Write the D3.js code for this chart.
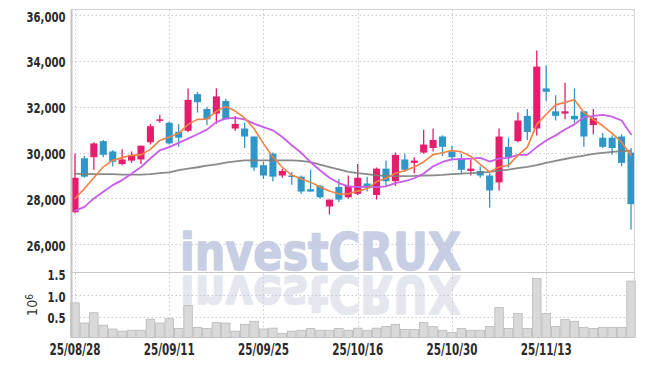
<!DOCTYPE html>
<html lang="ko">
<head>
<meta charset="UTF-8">
<title>Candle chart</title>
<style>
  body { margin: 0; background: #fff; }
  svg { display: block; }
  .grid line { stroke: #c6c8da; stroke-width: 1; stroke-dasharray: 1.5,2.5; }
  .axis text { font-family: "Liberation Sans Narrow", "DejaVu Sans Condensed", sans-serif; font-weight: bold; fill: #2b2b2b; }
  .axis path, .axis line { display: none; }
  .border { stroke: #d4d4d4; stroke-width: 1; fill: none; }
  .ma { fill: none; stroke-linejoin: round; stroke-linecap: round; }
  .watermark { font-family: "DejaVu Sans", sans-serif; font-weight: bold; stroke-linejoin: round; }
</style>
</head>
<body>
<svg></svg>
<script src="https://d3js.org/d3.v7.min.js"></script>
<script>
// trading days (yy/mm/dd)
const dates = [
  "25/08/28","25/08/29",
  "25/09/01","25/09/02","25/09/03","25/09/04","25/09/05","25/09/08","25/09/09","25/09/10","25/09/11","25/09/12",
  "25/09/15","25/09/16","25/09/17","25/09/18","25/09/19","25/09/22","25/09/23","25/09/24","25/09/25","25/09/26",
  "25/09/29","25/09/30","25/10/01","25/10/02","25/10/10","25/10/13","25/10/14","25/10/15","25/10/16","25/10/17",
  "25/10/20","25/10/21","25/10/22","25/10/23","25/10/24","25/10/27","25/10/28","25/10/29","25/10/30","25/10/31",
  "25/11/03","25/11/04","25/11/05","25/11/06","25/11/07","25/11/10","25/11/11","25/11/12","25/11/13","25/11/14",
  "25/11/17","25/11/18","25/11/19","25/11/20","25/11/21","25/11/24","25/11/25","25/11/26"
];

const open = [27400,29750,29800,30500,30050,29500,29650,29700,30450,31400,31300,30900,30950,32550,31900,31700,32250,31050,31050,30700,
  29450,29950,29000,29000,28950,28400,28550,27650,28500,28050,28200,28650,28150,29300,28750,29700,29550,30000,30200,30700,
  30050,29750,29200,29200,29000,28700,30250,30500,31600,31050,32800,31800,31700,31600,31800,31200,30650,30650,30700,30000];
const high = [29950,29850,30450,30550,30100,30150,30050,30300,31250,31650,31350,31250,32800,32650,32000,32800,32350,31600,31300,30700,
  29600,30000,29300,29150,29000,29250,28600,27950,28850,29000,29500,28950,29350,29650,30000,29950,29800,31000,31050,30750,
  30300,29950,29700,29400,29100,31050,30650,31750,31900,34450,33800,32500,33050,32800,31800,31900,30850,30750,30800,30200];
const low = [27350,28900,29250,29800,29400,29450,29550,29500,30350,31300,30350,30250,30900,31750,31200,31250,31450,30950,30200,29200,
  28850,28750,28900,28600,28200,28300,28000,27300,27850,28000,28150,28300,27950,28550,28550,29150,29100,29950,30050,29850,
  29650,29050,29000,28900,27600,28350,29350,30450,30550,30750,32250,31400,31450,31300,30250,30800,30200,29900,29400,26650];
const close = [28900,28950,30400,29900,29600,29700,29900,30300,31150,31450,30400,30650,32300,32200,31450,32450,31450,31250,30700,29350,
  29000,28950,29200,28950,28300,28300,28050,27950,27950,28550,28900,28450,29300,28750,29900,29250,29650,30350,30550,30250,
  29800,29250,29300,29000,28350,30700,29800,31400,30900,33750,32650,31600,31800,31450,30700,31500,30250,30200,29550,27750];

// moving averages
const ma5 = [28000,28430,28900,29380,29660,29780,29880,29900,30140,30530,30680,30840,31230,31450,31460,31800,32010,31810,31510,31040,
  30390,29810,29360,29010,28860,28710,28500,28320,28190,28200,28320,28420,28730,28880,29100,29210,29370,29590,29910,29990,
  30090,30030,29840,29490,29160,29370,29450,29880,30240,31230,31670,32080,32190,32300,31750,31450,31170,30840,30450,29880];
const ma20 = [27460,27630,28000,28290,28580,28800,29080,29370,29740,30100,30240,30420,30610,30800,31000,31330,31490,31510,31450,31260,
  31110,30970,30680,30320,29990,29580,29230,28900,28670,28530,28500,28500,28490,28530,28670,28750,28880,29090,29400,29590,
  29700,29720,29740,29770,29610,29740,29770,29900,29900,30240,30530,30750,31010,31230,31540,31600,31640,31570,31400,30800];
const ma60 = [29080,29060,29060,29060,29060,29040,29040,29040,29060,29100,29140,29230,29300,29360,29430,29490,29560,29620,29660,29660,
  29660,29660,29660,29660,29640,29580,29470,29370,29270,29160,29100,29060,29010,28990,28970,28970,28980,29000,29010,29030,
  29060,29080,29100,29130,29160,29210,29260,29320,29380,29450,29550,29640,29720,29800,29870,29940,29990,30030,30060,30080];

// volume, millions of shares
const volume = [0.82,0.35,0.59,0.30,0.21,0.16,0.18,0.18,0.44,0.35,0.45,0.22,0.76,0.25,0.22,0.36,0.35,0.16,0.32,0.39,
  0.21,0.23,0.11,0.16,0.18,0.22,0.18,0.18,0.22,0.18,0.23,0.18,0.23,0.27,0.32,0.20,0.20,0.36,0.27,0.18,
  0.13,0.22,0.18,0.18,0.27,0.71,0.22,0.57,0.22,1.39,0.57,0.27,0.43,0.39,0.25,0.22,0.25,0.25,0.25,1.33];

const priceTicks = [26000, 28000, 30000, 32000, 34000, 36000];
const volTicks = [0.5, 1.0, 1.5];
const dateTicks = ["25/08/28", "25/09/11", "25/09/25", "25/10/16", "25/10/30", "25/11/13"];

const width = 645, height = 366;
const pLeft = 71.5, pRight = 634.5, pTop = 9.5, pMid = 272.5, pBottom = 337.5;
const upColor = "#e61c6c", downColor = "#2f97c8";

const svg = d3.select("svg").attr("width", width).attr("height", height);

const x = d3.scaleBand().domain(dates).range([71, 635]).paddingInner(0.25).paddingOuter(0.05);
const xc = d => x(d) + x.bandwidth() / 2;
const y = d3.scaleLinear().domain([24770, 36240]).range([pMid, pTop]);
const yv = d3.scaleLinear().domain([0, 1.53]).range([338, pMid]);

// watermark + reflection
const wm = svg.append("g");
wm.append("text").attr("class", "watermark")
  .attr("x", 180).attr("y", 270)
  .attr("textLength", 281).attr("lengthAdjust", "spacingAndGlyphs")
  .style("font-size", "51px").attr("fill", "#c8cfe5")
  .attr("stroke", "#c8cfe5").attr("stroke-width", 1.5)
  .text("investCRUX");
wm.append("text").attr("class", "watermark")
  .attr("x", 180).attr("y", 270)
  .attr("transform", "translate(0," + (2 * 273) + ") scale(1,-1)")
  .attr("textLength", 281).attr("lengthAdjust", "spacingAndGlyphs")
  .style("font-size", "51px").attr("fill", "#e5e7ef")
  .attr("stroke", "#e5e7ef").attr("stroke-width", 1.5)
  .text("investCRUX");

// grid
const grid = svg.append("g").attr("class", "grid");
grid.selectAll(".hp").data(priceTicks).join("line")
  .attr("x1", pLeft).attr("x2", pRight)
  .attr("y1", d => Math.round(y(d)) + 0.5).attr("y2", d => Math.round(y(d)) + 0.5);
grid.selectAll(".hv").data(volTicks.slice(0, 2)).join("line")
  .attr("x1", pLeft).attr("x2", pRight)
  .attr("y1", d => Math.round(yv(d)) + 0.5).attr("y2", d => Math.round(yv(d)) + 0.5);
grid.selectAll(".v").data(dateTicks).join("line")
  .attr("x1", d => Math.round(xc(d)) + 0.5).attr("x2", d => Math.round(xc(d)) + 0.5)
  .attr("y1", pTop).attr("y2", pBottom);

// volume bars
const vw = x.step() * 0.9;
svg.append("g").selectAll("rect").data(dates).join("rect")
  .attr("x", d => xc(d) - vw / 2)
  .attr("width", vw)
  .attr("y", (d, i) => yv(volume[i]))
  .attr("height", (d, i) => pBottom - yv(volume[i]))
  .attr("fill", "#d9d9d9")
  .attr("stroke", "#b9b9b9")
  .attr("stroke-width", 0.8);

// candles
const candles = svg.append("g").selectAll("g").data(dates).join("g")
  .attr("fill", (d, i) => close[i] >= open[i] ? upColor : downColor)
  .attr("stroke", (d, i) => close[i] >= open[i] ? upColor : downColor);
candles.append("line")
  .attr("x1", d => xc(d)).attr("x2", d => xc(d))
  .attr("y1", (d, i) => y(high[i])).attr("y2", (d, i) => y(low[i]))
  .attr("stroke-width", 1.3);
candles.append("rect")
  .attr("x", d => x(d))
  .attr("width", x.bandwidth())
  .attr("y", (d, i) => y(Math.max(open[i], close[i])))
  .attr("height", (d, i) => Math.max(1.5, Math.abs(y(open[i]) - y(close[i]))))
  .attr("stroke", "none");

// moving averages
const line = arr => d3.line().x(d => xc(d)).y((d, i) => y(arr[i]))(dates);
svg.append("path").attr("class", "ma").attr("d", line(ma60))
  .attr("stroke", "#7d7d7d").attr("stroke-width", 1.8).attr("stroke-opacity", 0.9);
svg.append("path").attr("class", "ma").attr("d", line(ma20))
  .attr("stroke", "#c95ce8").attr("stroke-width", 1.8);
svg.append("path").attr("class", "ma").attr("d", line(ma5))
  .attr("stroke", "#ef8345").attr("stroke-width", 1.6);

// borders
svg.append("rect").attr("class", "border")
  .attr("x", pLeft).attr("y", pTop).attr("width", pRight - pLeft).attr("height", pBottom - pTop);
svg.append("line").attr("x1", pLeft).attr("x2", pRight).attr("y1", pMid).attr("y2", pMid)
  .attr("stroke", "#c8c8c8").attr("stroke-width", 1.2);
svg.append("line").attr("x1", pLeft).attr("x2", pLeft).attr("y1", pTop).attr("y2", pBottom)
  .attr("stroke", "#c4c4c4").attr("stroke-width", 2);
svg.append("line").attr("x1", pLeft).attr("x2", pRight).attr("y1", pBottom).attr("y2", pBottom)
  .attr("stroke", "#c4c4c4").attr("stroke-width", 1.2);

// axes
const yAxis = svg.append("g").attr("class", "axis")
  .attr("transform", "translate(" + (pLeft - 1) + ",0)")
  .call(d3.axisLeft(y).tickValues(priceTicks).tickFormat(d3.format(",")).tickSize(0).tickPadding(5));
yAxis.selectAll("text").style("font-size", "14.5px").attr("dy", "0.42em")
  .attr("textLength", 39).attr("lengthAdjust", "spacingAndGlyphs");

const vAxis = svg.append("g").attr("class", "axis")
  .attr("transform", "translate(" + (pLeft - 1) + ",0)")
  .call(d3.axisLeft(yv).tickValues(volTicks).tickFormat(d3.format(".1f")).tickSize(0).tickPadding(5));
vAxis.selectAll("text").style("font-size", "14.5px").attr("dy", "0.42em")
  .attr("textLength", 18).attr("lengthAdjust", "spacingAndGlyphs");

const xAxis = svg.append("g").attr("class", "axis")
  .attr("transform", "translate(0," + pBottom + ")")
  .call(d3.axisBottom(x).tickValues(dateTicks).tickSize(0).tickPadding(6));
xAxis.selectAll("text").style("font-size", "15.5px")
  .attr("textLength", 51).attr("lengthAdjust", "spacingAndGlyphs");

// unit label
const unit = svg.append("text")
  .attr("transform", "translate(37,305) rotate(-90)")
  .attr("text-anchor", "middle")
  .style("font-family", "\"Liberation Sans Narrow\", \"DejaVu Sans Condensed\", sans-serif")
  .style("font-size", "14px")
  .attr("fill", "#333");
unit.append("tspan").text("10");
unit.append("tspan").attr("dy", "-0.45em").style("font-size", "10px").text("6");
</script>
</body>
</html>
